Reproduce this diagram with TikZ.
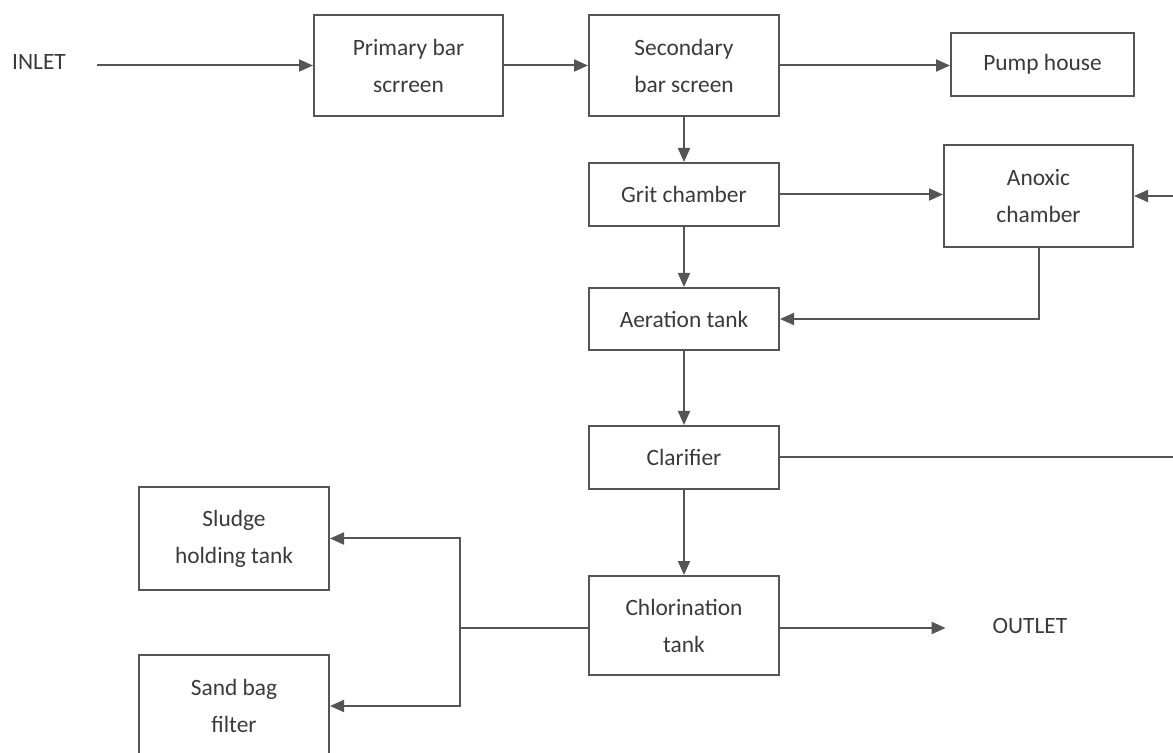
\documentclass[tikz,border=0pt]{standalone}
\usepackage{fontspec}
\setmainfont{Carlito}
\usetikzlibrary{arrows.meta}
\definecolor{boxline}{HTML}{555555}
\definecolor{boxtext}{HTML}{3A3A3A}
\begin{document}
\begin{tikzpicture}[x=0.5pt, y=-0.5pt,
    unit/.style={draw=boxline, line width=1pt, text=boxtext, align=center,
      inner sep=0pt, font=\fontsize{11.7}{18.5}\selectfont},
    tag/.style={text=boxtext, font=\fontsize{11.7}{14}\selectfont},
    flow/.style={draw=boxline, line width=1pt, -{Triangle[length=7pt,width=6pt]}},
    pipe/.style={draw=boxline, line width=1pt}]
      \useasboundingbox (0,0) rectangle (1173,753);
      \coordinate (split) at (460,628);
      \coordinate (ret) at (1180,458);
      \node[tag] (inlet) at (39,62) {INLET};
      \node[unit, minimum width=94.5pt, minimum height=50.5pt] (prim) at (408.5,65.5) {Primary bar\\scrreen};
      \node[unit, minimum width=95pt, minimum height=50.5pt] (sec) at (684,65.5) {Secondary\\bar screen};
      \node[unit, minimum width=91.5pt, minimum height=31.5pt] (pump) at (1042.5,64.5) {Pump house};
      \node[unit, minimum width=95pt, minimum height=31.5pt] (grit) at (684,194.5) {Grit chamber};
      \node[unit, minimum width=94.5pt, minimum height=51pt] (anox) at (1038.5,196) {Anoxic\\chamber};
      \node[unit, minimum width=95pt, minimum height=31pt] (aer) at (684,319) {Aeration tank};
      \node[unit, minimum width=95pt, minimum height=31.5pt] (clar) at (684,457.5) {Clarifier};
      \node[unit, minimum width=95pt, minimum height=49.5pt] (chlor) at (684,625.5) {Chlorination\\tank};
      \node[tag] (outlet) at (1030,626) {OUTLET};
      \node[unit, minimum width=95pt, minimum height=51.5pt] (sludge) at (234,538.5) {Sludge\\holding tank};
      \node[unit, minimum width=95pt, minimum height=51pt] (sand) at (234,706) {Sand bag\\filter};
      \draw[flow, shorten <=12pt] (inlet.east |- prim.west) -- (prim.west);
      \draw[flow] (prim) -- (sec);
      \draw[flow] (sec.east) -- (sec.east -| pump.west);
      \draw[flow] (sec) -- (grit);
      \draw[flow] (grit.east) -- (grit.east -| anox.west);
      \draw[flow] (grit) -- (aer);
      \draw[flow] (anox.south) |- (aer.east);
      \draw[flow] (aer) -- (clar);
      \draw[flow] (clar) -- (chlor);
      \draw[flow] (clar.east) -- (clar.east -| ret) |- (anox.east);
      \draw[flow, shorten >=20pt] (chlor.east |- split) -- (outlet.west |- split);
      \draw[pipe] (chlor.west |- split) -- (split);
      \draw[flow] (split) |- (sludge.east);
      \draw[flow] (split) |- (sand.east);
\end{tikzpicture}
\end{document}
